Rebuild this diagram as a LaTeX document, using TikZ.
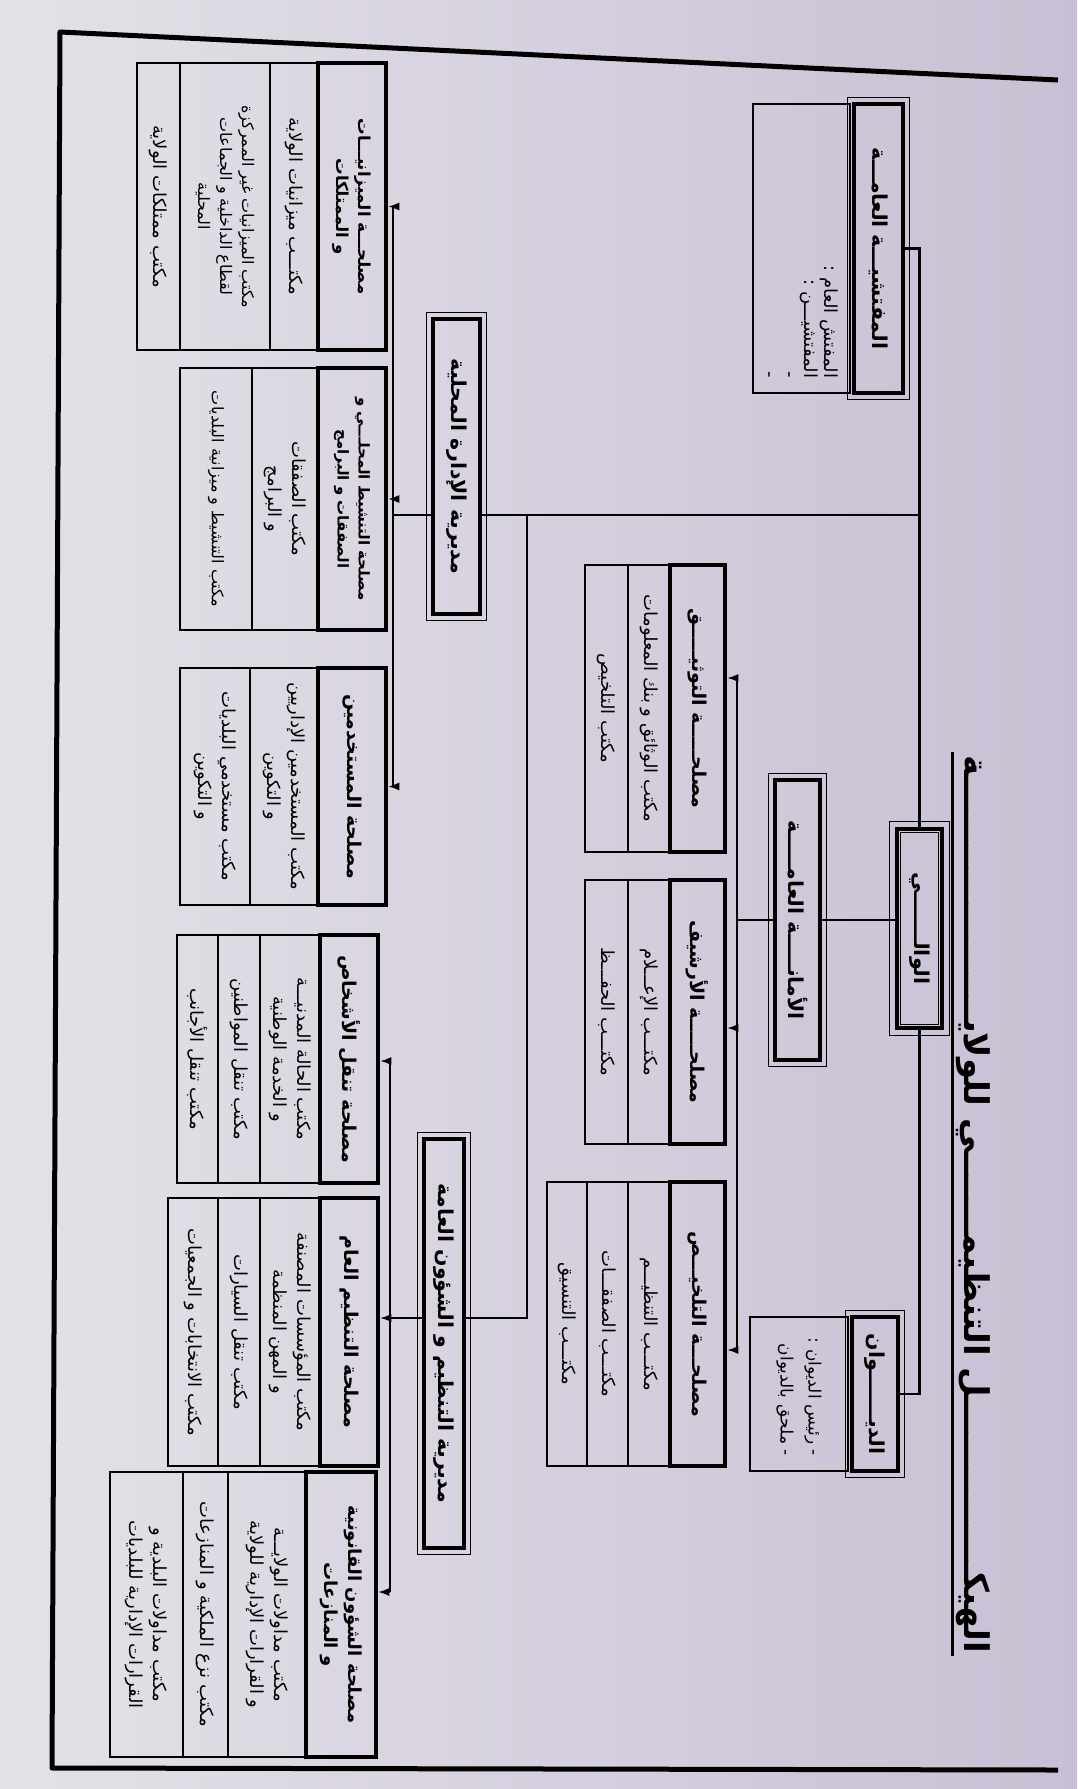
\documentclass[tikz,border=0pt]{standalone}
\usepackage{fontspec}
\usetikzlibrary{arrows.meta}
\newfontfamily\arabicfont[Script=Arabic]{DejaVu Sans}
\TeXXeTstate=1
\newcommand\arln[1]{\beginR#1\endR}
% thin outline drawn at a distance around (or inside) a framed node
\newcommand\rim[2]{\draw[line width=1pt] ([shift={({-1*(#2)},{-1*(#2)})}]#1.south west) rectangle ([shift={(#2,#2)}]#1.north east);}
\definecolor{paperL}{HTML}{E4E2E8}
\definecolor{paperR}{HTML}{C8BFD4}

\begin{document}
\begin{tikzpicture}[x=1pt,y=-1pt,
  every node/.append style={rotate=-90},
  % sizes are given as they appear on the page: width, then height
  ofc/.style 2 args={draw, line width=1.2pt, minimum width=#2pt, minimum height=#1pt,
    inner sep=1pt, align=center, font=\arabicfont\fontsize{18}{24}\selectfont},
  srv/.style 2 args={draw, line width=4.5pt, minimum width=#2pt, minimum height=#1pt,
    inner sep=1pt, align=center, font=\arabicfont\bfseries\fontsize{19}{24}\selectfont},
  dir/.style 2 args={srv={#1}{#2}, font=\arabicfont\bfseries\fontsize{20.5}{24}\selectfont},
  note/.style 2 args={ofc={#1}{#2}, text width=#2pt-30pt, align=right,
    font=\arabicfont\fontsize{18}{20}\selectfont},
  small/.style={font=\arabicfont\fontsize{16}{22}\selectfont},
  smallb/.style={font=\arabicfont\bfseries\fontsize{16.5}{22}\selectfont},
  link/.style={line width=2.4pt},
  arr/.style={line width=1.6pt, -{Latex[length=11pt,width=8pt]}}]

\useasboundingbox (0,0) rectangle (1077,1789);
\shade[left color=paperL, right color=paperR] (0,0) rectangle (1077,1789);

% frame of the sheet
\draw[line width=5pt, line join=round] (1058,80) -- (60,32) -- (52,1768) -- (1058,1770);

% title
\node[font=\arabicfont\bfseries\fontsize{34}{40}\selectfont, inner sep=3pt] (ttl) at (973,1204)
  {\arln{الهيكـــــــــــــــل التنظيمـــــــي للولايـــــــــــــــــــــة}};
\draw[line width=2.5pt] (ttl.south west) -- (ttl.south east);

% top level
\node[dir={45}{199}] (wali) at (919.5,928.5) {\arln{الوالـــــــي}};
\rim{wali}{5} \rim{wali}{-6}

\node[dir={49}{289}] (insp) at (878.5,248.5) {\arln{المفتشيـــة العامـــة}};
\rim{insp}{4}
\node[note={97}{289}] (inspd) at (801.5,248.5)
  {\arln{المفتش العام :}\\\arln{المفتشيـــن :}\\\arln{-}\\\arln{-}};

\node[dir={46}{154}] (diwan) at (875,1394) {\arln{الديـــــــوان}};
\rim{diwan}{4}
\node[note={98}{154}, font=\arabicfont\fontsize{17}{28}\selectfont] (diwand) at (799,1394)
  {\arln{- رئيس الديوان :}\\\arln{- ملحق بالديوان}};

\node[dir={45}{280}] (amana) at (797.5,920) {\arln{الأمانـــــة العامـــــة}};
\rim{amana}{4}

% secretariat services
\node[srv={55}{287}] (dok) at (697.5,708.5) {\arln{مصلحـــــة التوثيـــــق}};
\node[ofc={42}{287}] (dokA) at (649,708.5) {\arln{مكتب الوثائق و بنك المعلومات}};
\node[ofc={43}{287}] (dokB) at (606.5,708.5) {\arln{مكتب التلخيص}};

\node[srv={55}{264}] (arch) at (697.5,1012) {\arln{مصلحـــــة الأرشيف}};
\node[ofc={42}{264}] (archA) at (649,1012) {\arln{مكتـــب الإعـــلام}};
\node[ofc={43}{264}] (archB) at (606.5,1012) {\arln{مكتـــب الحفـــظ}};

\node[srv={55}{284}] (tlk) at (697.5,1324) {\arln{مصلحـــة التلخيـــص}};
\node[ofc={42}{284}] (tlkA) at (649,1324) {\arln{مكتـــب التنظيـــم}};
\node[ofc={41}{284}] (tlkB) at (607.5,1324) {\arln{مكتـــب الصفقـــات}};
\node[ofc={40}{284}] (tlkC) at (567,1324) {\arln{مكتـــب التنسيق}};

% local administration
\node[dir={47}{295}] (lad) at (456.5,466.5) {\arln{مديرية الإدارة المحلية}};
\rim{lad}{4}

\node[srv={68}{287}, smallb] (bud) at (352,206.5)
  {\arln{مصلحـــة الميزانيـــات}\\\arln{و الممتلكات}};
\node[ofc={48}{287}] (budA) at (294,206.5) {\arln{مكتـــب ميزانيات الولاية}};
\node[ofc={90}{287}, small] (budB) at (225,206.5)
  {\arln{مكتب الميزانيات غير الممركزة}\\\arln{لقطاع الداخلية و الجماعات}\\\arln{المحلية}};
\node[ofc={43}{287}] (budC) at (158.5,206.5) {\arln{مكتب ممتلكات الولاية}};

\node[srv={68}{262}, font=\arabicfont\bfseries\fontsize{15}{21}\selectfont] (tan) at (352,499)
  {\arln{مصلحة التنشيط المحلـــي و}\\\arln{الصفقات و البرامج}};
\node[ofc={66}{262}] (tanA) at (285,499) {\arln{مكتب الصفقات}\\\arln{و البرامج}};
\node[ofc={72}{262}, small] (tanB) at (216,499)
  {\arln{مكتب التنشيط و ميزانية البلديات}};

\node[srv={68}{237}] (mst) at (352,786.5) {\arln{مصلحة المستخدمين}};
\node[ofc={68}{237}] (mstA) at (284,786.5) {\arln{مكتب المستخدمين الإداريين}\\\arln{و التكوين}};
\node[ofc={70}{237}] (mstB) at (215,786.5) {\arln{مكتب مستخدمي البلديات}\\\arln{و التكوين}};

% regulation and general affairs
\node[dir={40}{409}] (reg) at (444,1343.5) {\arln{مديرية التنظيم و الشؤون العامة}};
\rim{reg}{4}

\node[srv={58}{248}] (nql) at (349,1059) {\arln{مصلحة تنقل الأشخاص}};
\node[ofc={60}{248}] (nqlA) at (290,1059) {\arln{مكتب الحالة المدنيـــة}\\\arln{و الخدمة الوطنية}};
\node[ofc={42}{248}] (nqlB) at (239,1059) {\arln{مكتب تنقل المواطنين}};
\node[ofc={41}{248}] (nqlC) at (197.5,1059) {\arln{مكتب تنقل الأجانب}};

\node[srv={58}{268}] (tnz) at (349,1332) {\arln{مصلحة التنظيم العام}};
\node[ofc={60}{268}] (tnzA) at (290,1332) {\arln{مكتب المؤسسات المصنفة}\\\arln{و المهن المنظمة}};
\node[ofc={42}{268}] (tnzB) at (239,1332) {\arln{مكتب تنقل السيارات}};
\node[ofc={50}{268}] (tnzC) at (193,1332) {\arln{مكتب الانتخابات و الجمعيات}};

\node[srv={70}{285}, font=\arabicfont\bfseries\fontsize{18}{24}\selectfont] (qan) at (341,1614.5)
  {\arln{مصلحة الشؤون القانونية}\\\arln{و المنازعات}};
\node[ofc={78}{285}] (qanA) at (267,1614.5) {\arln{مكتب مداولات الولايـــة}\\\arln{و القرارات الإدارية للولاية}};
\node[ofc={45}{285}] (qanB) at (205.5,1614.5) {\arln{مكتب نزع الملكية و المنازعات}};
\node[ofc={73}{285}] (qanC) at (146.5,1614.5) {\arln{مكتب مداولات البلدية و}\\\arln{القرارات الإدارية للبلديات}};

% connectors
\coordinate (tj) at (919.5,515);
\coordinate (tk) at (527,515);
\coordinate (tl) at (527,1318);
\coordinate (brkL) at (393,515);
\coordinate (brkR) at (390,1318);
\coordinate (s1) at (737,678);
\coordinate (s2) at (737,1028);
\coordinate (s3) at (737,1350);
\coordinate (r1) at (390,1061);
\coordinate (r3) at (390,1592);

\draw[link] (wali.west) |- (insp.north);
\draw[link] (wali.east) |- (diwan.north);
\draw[link] (amana.north) -- (amana.north -| wali.south);
\draw[link] (amana.south) -- (amana.south -| s1);
\draw[link] (s1) -- (s3);
\foreach \c/\s in {s1/dok,s2/arch,s3/tlk}
  \draw[arr] (\c) -- (\c -| \s.north);

\draw[link] (tj) -- (tj -| lad.north);
\draw[link] (tj -| lad.south) -- (brkL);
\draw[link] (brkL |- bud.north) -- (brkL |- mst.north);
\foreach \s in {bud,tan,mst}
  \draw[arr] (brkL |- \s.north) -- (\s.north);

\draw[link] (tk) -- (tl) -- (tl -| reg.north);
\draw[link] (tl -| reg.south) -- (brkR);
\draw[link] (r1) -- (r3);
\foreach \c/\s in {r1/nql,brkR/tnz,r3/qan}
  \draw[arr] (\c) -- (\c -| \s.north);

\end{tikzpicture}
\end{document}
